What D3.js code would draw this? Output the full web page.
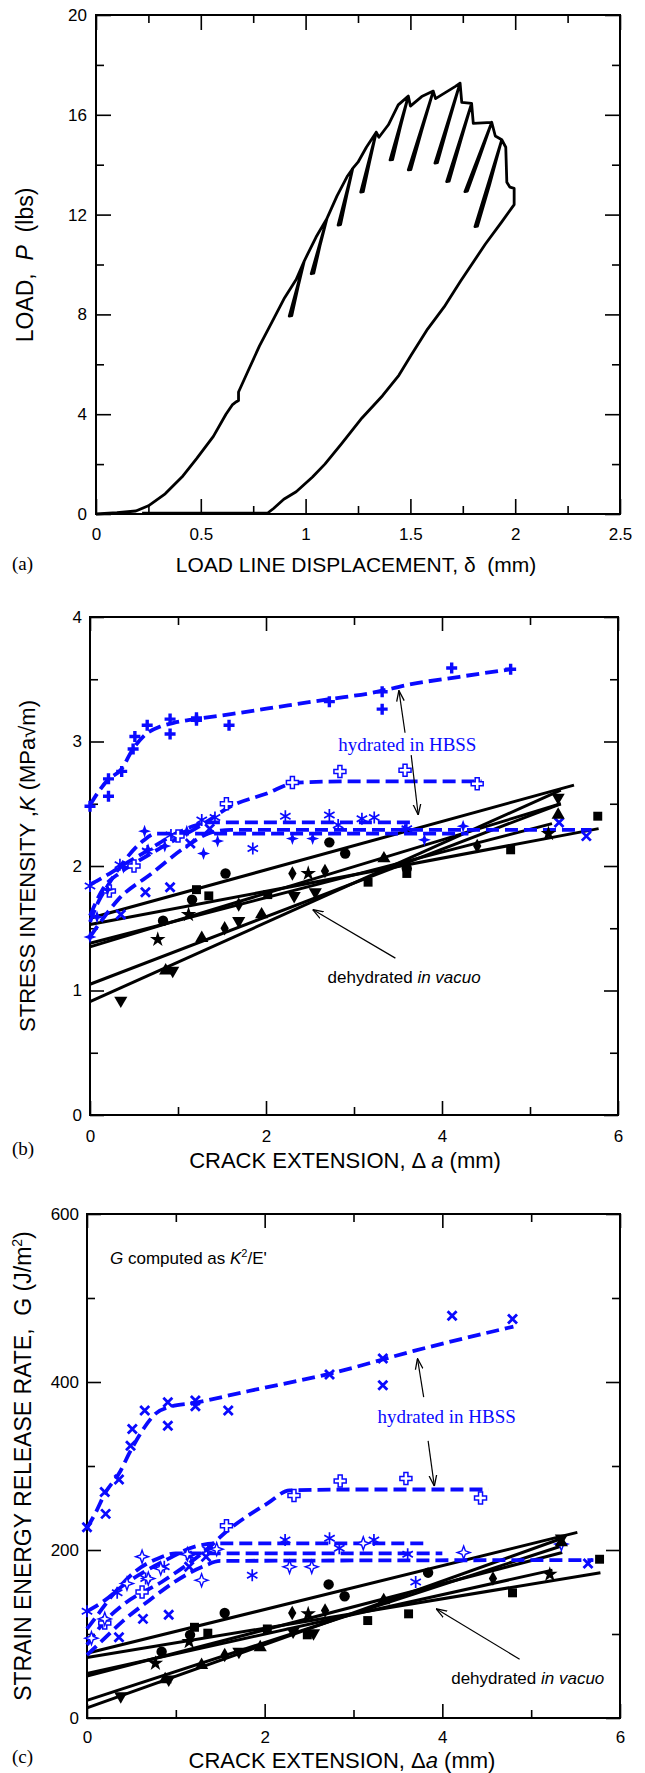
<!DOCTYPE html>
<html>
<head>
<meta charset="utf-8">
<style>
body { margin: 0; background: #fff; }
svg text { font-family: "Liberation Sans", Arial, sans-serif; white-space: pre; }
.serif { font-family: "Liberation Serif", "Times New Roman", serif; }
</style>
</head>
<body>
<svg id="fig" width="645" height="1773"></svg>
<script src="https://d3js.org/d3.v7.min.js"></script>
<script>

// ---------- panel (a): load vs load-line displacement [delta mm, P lbs]
// each unload/reload streak is traced down and back up, like the recorder did
var loadPath = [
  [0,0],[0.1,0.05],[0.19,0.12],[0.25,0.33],[0.33,0.81],[0.41,1.48],[0.48,2.22],[0.56,3.11],[0.62,4.0],
  [0.65,4.37],[0.67,4.5],[0.68,4.55],[0.68,4.89],[0.72,5.63],[0.78,6.74],[0.84,7.7],[0.9,8.67],[0.955,9.4],[0.994,10.15],
  [0.922,7.93],[0.934,7.95],[0.964,9.1],[0.994,10.15],
  [1.05,11.1],[1.102,11.85],
  [1.027,9.63],[1.039,9.65],[1.07,10.8],[1.102,11.85],
  [1.15,12.75],[1.2,13.55],[1.225,13.85],
  [1.155,11.58],[1.167,11.6],[1.197,12.8],[1.225,13.85],
  [1.25,14.1],[1.29,14.7],[1.337,15.3],
  [1.263,12.9],[1.275,12.92],[1.305,14.1],[1.337,15.3],
  [1.35,15.1],[1.395,15.6],[1.442,16.4],[1.49,16.75],
  [1.403,14.19],[1.415,14.2],[1.452,15.5],[1.49,16.75],
  [1.5,16.35],[1.554,16.73],[1.609,16.95],
  [1.49,13.79],[1.502,13.8],[1.555,15.4],[1.609,16.95],
  [1.62,16.65],[1.649,16.8],[1.713,17.13],[1.737,17.27],
  [1.617,14.06],[1.629,14.08],[1.683,15.7],[1.737,17.27],
  [1.745,16.5],[1.792,16.46],
  [1.673,13.32],[1.685,13.34],[1.738,14.9],[1.792,16.46],
  [1.8,15.66],[1.888,15.7],
  [1.76,12.92],[1.772,12.94],[1.83,14.3],[1.888,15.7],
  [1.905,15.15],[1.936,15.0],
  [1.808,11.52],[1.82,11.54],[1.878,13.2],[1.936,15.0],
  [1.955,14.7],[1.96,13.3],[1.975,13.1],[1.995,13.05],[1.995,12.4],
  [1.935,11.7],[1.857,10.81],[1.739,9.33],[1.661,8.3],[1.582,7.41],[1.504,6.37],[1.445,5.56],[1.367,4.74],
  [1.269,3.85],[1.171,2.81],[1.092,2.0],[1.033,1.48],[0.975,1.04],[0.955,0.89],[0.896,0.59],[0.847,0.22],
  [0.818,0.03],[0.22,0.03]
];
var aXMajor = [0, 0.5, 1, 1.5, 2, 2.5];
var aXMinor = [0.25, 0.75, 1.25, 1.75, 2.25];
var aYMajor = [0, 4, 8, 12, 16, 20];
var aYMinor = [2, 6, 10, 14, 18];

// ---------- panel (b): K vs crack extension [mm, MPa sqrt m]
// hydrated fits (blue dashed) and their points
var kFitPlus = [[0,2.49],[0.1,2.6],[0.2,2.69],[0.36,2.78],[0.48,2.93],[0.62,3.05],[0.8,3.12],[0.95,3.15],[1.2,3.18],[1.6,3.22],[2.25,3.29],[2.72,3.34],[3.2,3.39],[3.65,3.46],[4.2,3.52],[4.78,3.58]];
var kPtsPlus = [[0,2.48],[0.21,2.7],[0.21,2.56],[0.36,2.76],[0.49,2.94],[0.51,3.04],[0.65,3.13],[0.91,3.18],[0.91,3.06],[1.21,3.17],[1.21,3.19],[1.58,3.13],[2.72,3.32],[3.32,3.4],[3.32,3.26],[4.11,3.59],[4.78,3.58]];
var kFitOpenPlus = [[0,1.6],[0.15,1.82],[0.35,1.95],[0.55,2.04],[0.89,2.18],[1.27,2.33],[1.6,2.48],[2.0,2.58],[2.35,2.67],[3.0,2.68],[4.45,2.68]];
var kPtsOpenPlus = [[0.22,1.8],[0.5,2.0],[1.0,2.24],[1.55,2.5],[2.3,2.67],[2.84,2.76],[3.58,2.77],[4.4,2.66]];
var kFitAster = [[0,1.85],[0.2,1.93],[0.38,2.01],[0.62,2.11],[0.9,2.23],[1.1,2.3],[1.35,2.35],[2.0,2.35],[3.7,2.35]];
var kPtsAster = [[0,1.84],[0.34,2.01],[0.65,2.12],[0.92,2.25],[1.27,2.37],[1.42,2.39],[1.85,2.14],[2.22,2.4],[2.72,2.41],[2.82,2.33],[3.09,2.38],[3.23,2.39],[3.6,2.3]];
var kFitStar4 = [[0,1.55],[0.1,1.72],[0.2,1.84],[0.4,2.05],[0.6,2.2],[0.75,2.26],[1.2,2.26],[4.3,2.26]];
var kPtsStar4 = [[0,1.43],[0.08,1.59],[0.2,1.81],[0.38,1.99],[0.62,2.28],[0.66,2.13],[0.85,2.16],[1.1,2.28],[1.29,2.1],[1.45,2.2],[2.3,2.22],[2.53,2.22],[3.58,2.3],[3.8,2.21],[4.24,2.32]];
var kFitCross = [[0,1.43],[0.15,1.58],[0.32,1.73],[0.7,1.94],[1.08,2.15],[1.38,2.27],[1.6,2.29],[5.7,2.29]];
var kPtsCross = [[0.35,1.61],[0.63,1.79],[0.91,1.83],[1.14,2.18],[1.36,2.3],[5.33,2.35],[5.64,2.24]];
// dehydrated linear fits (start, end) and their points
var kDryLines = [
  [[0,1.58],[5.5,2.65]], [[0,1.53],[5.78,2.3]], [[0,1.38],[5.25,2.34]],
  [[0,1.35],[5.35,2.5]], [[0,1.05],[5.35,2.5]], [[0,0.91],[5.35,2.61]]
];
var kDryCircle = [[0.83,1.56],[1.16,1.73],[1.54,1.94],[2.72,2.19],[2.9,2.1],[3.6,1.98]];
var kDrySquare = [[1.21,1.81],[1.35,1.76],[2.02,1.77],[3.16,1.87],[3.6,1.94],[4.78,2.13],[5.77,2.4]];
var kDryStar = [[0.77,1.41],[1.12,1.61],[2.48,1.94],[5.21,2.26]];
var kDryDiamond = [[1.53,1.5],[1.69,1.69],[2.3,1.94],[2.67,1.96],[4.4,2.16]];
var kDryTriUp = [[0.86,1.16],[1.27,1.42],[1.95,1.61],[3.34,2.06],[5.32,2.41]];
var kDryTriDown = [[0.35,0.92],[0.94,1.16],[1.69,1.56],[2.32,1.76],[2.56,1.79],[5.32,2.55]];
var bXMajor = [0, 2, 4, 6], bXMinor = [1, 3, 5];
var bYMajor = [0, 1, 2, 3, 4], bYMinor = [0.5, 1.5, 2.5, 3.5];

// ---------- panel (c): G vs crack extension [mm, J/m2]
var gFitCross = [[0,226],[0.1,245],[0.2,267],[0.36,291],[0.5,320],[0.64,345],[0.78,363],[0.92,370],[1.2,375],[1.81,389],[2.74,410],[3.68,437],[4.8,466]];
var gPtsCross = [[0,227],[0.2,269],[0.21,243],[0.36,284],[0.49,324],[0.51,344],[0.65,366],[0.91,376],[0.91,348],[1.22,378],[1.22,371],[1.59,366],[2.73,409],[3.33,428],[3.33,396],[4.11,479],[4.79,475]];
var gFitOpenPlus = [[0,87],[0.2,115],[0.41,135],[0.87,164],[1.34,200],[1.57,222],[2.04,256],[2.28,271],[3.0,272],[4.52,272]];
var gPtsOpenPlus = [[0.2,113],[0.62,150],[1.57,229],[2.33,265],[2.85,282],[3.59,285],[4.43,262]];
var gFitAster = [[0,127],[0.2,140],[0.41,158],[0.87,187],[1.25,205],[1.5,208],[3.82,208]];
var gPtsAster = [[0,127],[0.34,149],[0.66,166],[0.87,180],[1.17,192],[1.36,200],[1.86,170],[2.23,212],[2.73,214],[2.84,202],[3.23,212],[3.61,195],[3.7,162]];
var gFitStar4 = [[0,106],[0.1,120],[0.3,148],[0.55,175],[0.8,190],[1.0,196],[4.0,196]];
var gPtsStar4 = [[0.05,95],[0.2,118],[0.45,160],[0.62,192],[0.69,166],[0.83,178],[1.13,195],[1.29,164],[1.46,201],[2.28,180],[2.53,180],[3.11,208],[4.24,197],[5.34,207]];
var gFitCrossB = [[0,75],[0.2,95],[0.4,115],[0.7,140],[1.0,163],[1.3,180],[1.5,187],[5.7,188]];
var gPtsCrossB = [[0.36,96],[0.63,118],[0.92,123],[1.15,180],[1.34,192],[5.64,184]];
var gDryLines = [
  [[0,77],[5.52,221]], [[0,72],[5.78,173]], [[0,53],[5.24,176]],
  [[0,50],[5.35,197]], [[0,21],[5.35,205]], [[0,12],[5.35,214]]
];
var gDryCircle = [[0.84,79],[1.16,99],[1.55,125],[2.72,159],[2.9,145],[3.84,173]];
var gDrySquare = [[1.21,108],[1.36,101],[2.03,106],[2.48,99],[3.16,116],[3.62,124],[4.79,149],[5.77,189]];
var gDryStar = [[0.77,65],[1.15,91],[2.49,124],[5.21,171]];
var gDryDiamond = [[1.55,75],[2.31,125],[2.68,128],[4.57,166]];
var gDryTriUp = [[0.88,46],[1.29,63],[1.95,84],[3.34,140],[5.34,209]];
var gDryTriDown = [[0.38,26],[0.92,46],[1.71,79],[2.32,103],[2.55,101],[5.34,214]];
var cXMajor = [0, 2, 4, 6], cXMinor = [1, 3, 5];
var cYMajor = [0, 200, 400, 600], cYMinor = [100, 300, 500];

var BLUE = "#0a0aff";
var svg = d3.select("#fig");

svg.append("defs").append("marker")
    .attr("id", "arr").attr("viewBox", "0 0 10 10")
    .attr("refX", 10).attr("refY", 5)
    .attr("markerWidth", 9).attr("markerHeight", 9)
    .attr("orient", "auto")
  .append("path")
    .attr("d", "M0,1.5 L10,5 L0,8.5")
    .attr("fill", "none").attr("stroke", "#000").attr("stroke-width", 1.2);

// box with inward ticks on all four sides
function frame(g, x, y, o) {
  var l = x.range()[0], r = x.range()[1], b = y.range()[0], t = y.range()[1];
  function add(axis, tr) {
    var a = g.append("g").attr("transform", tr).call(axis);
    a.attr("font-size", o.fs).attr("font-family", "Liberation Sans, Arial, sans-serif");
    return a;
  }
  add(d3.axisBottom(x).tickValues(o.xMaj).tickSize(-o.big).tickPadding(o.padX).tickFormat(function(d) { return d; }), "translate(0," + b + ")");
  add(d3.axisBottom(x).tickValues(o.xMin).tickSize(-o.small).tickFormat(""), "translate(0," + b + ")");
  add(d3.axisTop(x).tickValues(o.xMaj).tickSize(-o.big).tickFormat(""), "translate(0," + t + ")");
  add(d3.axisTop(x).tickValues(o.xMin).tickSize(-o.small).tickFormat(""), "translate(0," + t + ")");
  add(d3.axisLeft(y).tickValues(o.yMaj).tickSize(-o.big).tickPadding(o.padY).tickFormat(function(d) { return d; }), "translate(" + l + ",0)");
  add(d3.axisLeft(y).tickValues(o.yMin).tickSize(-o.small).tickFormat(""), "translate(" + l + ",0)");
  add(d3.axisRight(y).tickValues(o.yMaj).tickSize(-o.big).tickFormat(""), "translate(" + r + ",0)");
  add(d3.axisRight(y).tickValues(o.yMin).tickSize(-o.small).tickFormat(""), "translate(" + r + ",0)");
  g.selectAll(".domain").remove();
  g.selectAll(".tick line").attr("stroke", "#000").attr("stroke-width", 1.6);
  g.selectAll(".tick text").attr("fill", "#000");
  g.append("rect").attr("x", l).attr("y", t).attr("width", r - l).attr("height", b - t)
    .attr("fill", "none").attr("stroke", "#000").attr("stroke-width", 2);
}

function marks(g, pts, type, x, y, color) {
  var sel = g.append("g").selectAll("path").data(pts).join("path")
    .attr("transform", function(d) { return "translate(" + x(d[0]) + "," + y(d[1]) + ")"; });
  var sym = d3.symbol();
  if (type === "plus") {
    sel.attr("d", "M-5.5,0H5.5M0,-5.5V5.5").attr("fill", "none").attr("stroke", color).attr("stroke-width", 3.4);
  } else if (type === "openPlus") {
    sel.attr("d", "M-2,-6H2V-2H6V2H2V6H-2V2H-6V-2H-2Z").attr("fill", "#fff").attr("stroke", color).attr("stroke-width", 1.5);
  } else if (type === "cross") {
    sel.attr("d", "M-4.5,-4.5L4.5,4.5M-4.5,4.5L4.5,-4.5").attr("fill", "none").attr("stroke", color).attr("stroke-width", 2.8);
  } else if (type === "aster") {
    sel.attr("d", "M0,-6V6M-5.2,-3L5.2,3M-5.2,3L5.2,-3").attr("fill", "none").attr("stroke", color).attr("stroke-width", 1.7);
  } else if (type === "star4") {
    sel.attr("d", "M0,-6.5L1.7,-1.7L6.5,0L1.7,1.7L0,6.5L-1.7,1.7L-6.5,0L-1.7,-1.7Z").attr("fill", color);
  } else if (type === "openStar4") {
    sel.attr("d", "M0,-6.5L1.7,-1.7L6.5,0L1.7,1.7L0,6.5L-1.7,1.7L-6.5,0L-1.7,-1.7Z").attr("fill", "#fff").attr("stroke", color).attr("stroke-width", 1.4);
  } else {
    var types = { circle: [d3.symbolCircle, 85], square: [d3.symbolSquare, 80], star: [d3.symbolStar, 75],
                  diamond: [d3.symbolDiamond, 60], triUp: [d3.symbolTriangle, 75], triDown: [d3.symbolTriangle, 75] };
    sel.attr("d", sym.type(types[type][0]).size(types[type][1])()).attr("fill", color);
    if (type === "triDown") sel.attr("transform", function(d) { return "translate(" + x(d[0]) + "," + y(d[1]) + ") rotate(180)"; });
  }
}

function dashed(g, pts, x, y) {
  g.append("path").datum(pts)
    .attr("d", d3.line().x(function(d) { return x(d[0]); }).y(function(d) { return y(d[1]); }).curve(d3.curveMonotoneX))
    .attr("fill", "none").attr("stroke", BLUE).attr("stroke-width", 3.8).attr("stroke-dasharray", "13,6");
}

function straight(g, seg, x, y) {
  g.append("line").attr("x1", x(seg[0][0])).attr("y1", y(seg[0][1])).attr("x2", x(seg[1][0])).attr("y2", y(seg[1][1]))
    .attr("stroke", "#000").attr("stroke-width", 3);
}

function arrow(g, from, to, x, y) {
  g.append("line").attr("x1", x(from[0])).attr("y1", y(from[1])).attr("x2", x(to[0])).attr("y2", y(to[1]))
    .attr("stroke", "#000").attr("stroke-width", 1.2).attr("marker-end", "url(#arr)");
}

// ================= (a)
var ax = d3.scaleLinear().domain([0, 2.5]).range([96, 620]);
var ay = d3.scaleLinear().domain([0, 20]).range([514, 15]);
var ga = svg.append("g");
frame(ga, ax, ay, { xMaj: aXMajor, xMin: aXMinor, yMaj: aYMajor, yMin: aYMinor, big: 15, small: 8, padX: 14, padY: 9, fs: 17 });
ga.append("path").datum(loadPath)
  .attr("d", d3.line().x(function(d) { return ax(d[0]); }).y(function(d) { return ay(d[1]); }))
  .attr("fill", "none").attr("stroke", "#000").attr("stroke-width", 2.8).attr("stroke-linejoin", "round");
ga.append("text").attr("transform", "translate(33,265) rotate(-90)").attr("text-anchor", "middle")
  .attr("font-size", 23).html('LOAD,  <tspan font-style="italic">P</tspan>  (lbs)');
ga.append("text").attr("x", 356).attr("y", 572).attr("text-anchor", "middle").attr("font-size", 21)
  .text("LOAD LINE DISPLACEMENT, \u03b4  (mm)");
ga.append("text").attr("class", "serif").attr("x", 12).attr("y", 570).attr("font-size", 19).text("(a)");

// ================= (b)
var bx = d3.scaleLinear().domain([0, 6]).range([90, 618]);
var by = d3.scaleLinear().domain([0, 4]).range([1115, 617]);
var gb = svg.append("g");
frame(gb, bx, by, { xMaj: bXMajor, xMin: bXMinor, yMaj: bYMajor, yMin: bYMinor, big: 14, small: 8, padX: 15, padY: 8, fs: 17 });
kDryLines.forEach(function(s) { straight(gb, s, bx, by); });
[kFitPlus, kFitOpenPlus, kFitAster, kFitStar4, kFitCross].forEach(function(f) { dashed(gb, f, bx, by); });
marks(gb, kPtsPlus, "plus", bx, by, BLUE);
marks(gb, kPtsOpenPlus, "openPlus", bx, by, BLUE);
marks(gb, kPtsAster, "aster", bx, by, BLUE);
marks(gb, kPtsStar4, "star4", bx, by, BLUE);
marks(gb, kPtsCross, "cross", bx, by, BLUE);
marks(gb, kDryCircle, "circle", bx, by, "#000");
marks(gb, kDrySquare, "square", bx, by, "#000");
marks(gb, kDryStar, "star", bx, by, "#000");
marks(gb, kDryDiamond, "diamond", bx, by, "#000");
marks(gb, kDryTriUp, "triUp", bx, by, "#000");
marks(gb, kDryTriDown, "triDown", bx, by, "#000");
gb.append("text").attr("class", "serif").attr("x", bx(2.82)).attr("y", 751).attr("font-size", 19).attr("fill", BLUE).text("hydrated in HBSS");
arrow(gb, [3.58, 3.07], [3.51, 3.41], bx, by);
arrow(gb, [3.65, 2.89], [3.73, 2.41], bx, by);
gb.append("text").attr("x", bx(2.7)).attr("y", 983).attr("font-size", 17)
  .html('dehydrated <tspan font-style="italic">in vacuo</tspan>');
arrow(gb, [3.47, 1.26], [2.53, 1.65], bx, by);
gb.append("text").attr("transform", "translate(35,866) rotate(-90)").attr("text-anchor", "middle")
  .attr("font-size", 22).html('STRESS INTENSITY ,<tspan font-style="italic">K</tspan> (MPa\u221am)');
gb.append("text").attr("x", 345).attr("y", 1168).attr("text-anchor", "middle").attr("font-size", 22)
  .html('CRACK EXTENSION, \u0394 <tspan font-style="italic">a</tspan> (mm)');
gb.append("text").attr("class", "serif").attr("x", 12).attr("y", 1155).attr("font-size", 19).text("(b)");

// ================= (c)
var cx = d3.scaleLinear().domain([0, 6]).range([87, 620]);
var cy = d3.scaleLinear().domain([0, 600]).range([1718, 1214]);
var gc = svg.append("g");
frame(gc, cx, cy, { xMaj: cXMajor, xMin: cXMinor, yMaj: cYMajor, yMin: cYMinor, big: 14, small: 8, padX: 13, padY: 8, fs: 17 });
gDryLines.forEach(function(s) { straight(gc, s, cx, cy); });
[gFitCross, gFitOpenPlus, gFitAster, gFitStar4, gFitCrossB].forEach(function(f) { dashed(gc, f, cx, cy); });
marks(gc, gPtsCross, "cross", cx, cy, BLUE);
marks(gc, gPtsOpenPlus, "openPlus", cx, cy, BLUE);
marks(gc, gPtsAster, "aster", cx, cy, BLUE);
marks(gc, gPtsStar4, "openStar4", cx, cy, BLUE);
marks(gc, gPtsCrossB, "cross", cx, cy, BLUE);
marks(gc, gDryCircle, "circle", cx, cy, "#000");
marks(gc, gDrySquare, "square", cx, cy, "#000");
marks(gc, gDryStar, "star", cx, cy, "#000");
marks(gc, gDryDiamond, "diamond", cx, cy, "#000");
marks(gc, gDryTriUp, "triUp", cx, cy, "#000");
marks(gc, gDryTriDown, "triDown", cx, cy, "#000");
gc.append("text").attr("class", "serif").attr("x", cx(3.27)).attr("y", 1423).attr("font-size", 19).attr("fill", BLUE).text("hydrated in HBSS");
arrow(gc, [3.79, 382], [3.72, 428], cx, cy);
arrow(gc, [3.84, 330], [3.91, 276], cx, cy);
gc.append("text").attr("x", cx(4.1)).attr("y", 1684).attr("font-size", 17)
  .html('dehydrated <tspan font-style="italic">in vacuo</tspan>');
arrow(gc, [4.87, 70], [3.93, 130], cx, cy);
gc.append("text").attr("x", 110).attr("y", 1264).attr("font-size", 17)
  .html('<tspan font-style="italic">G</tspan> computed as <tspan font-style="italic">K</tspan><tspan font-size="11" dy="-7">2</tspan><tspan dy="7">/E\'</tspan>');
gc.append("text").attr("transform", "translate(31,1466) rotate(-90)").attr("text-anchor", "middle")
  .attr("font-size", 23).html('STRAIN ENERGY RELEASE RATE,  G (J/m<tspan font-size="14" dy="-9">2</tspan><tspan dy="9">)</tspan>');
gc.append("text").attr("x", 342).attr("y", 1768).attr("text-anchor", "middle").attr("font-size", 22)
  .html('CRACK EXTENSION, \u0394<tspan font-style="italic">a</tspan> (mm)');
gc.append("text").attr("class", "serif").attr("x", 12).attr("y", 1763).attr("font-size", 19).text("(c)");

</script>
</body>
</html>
